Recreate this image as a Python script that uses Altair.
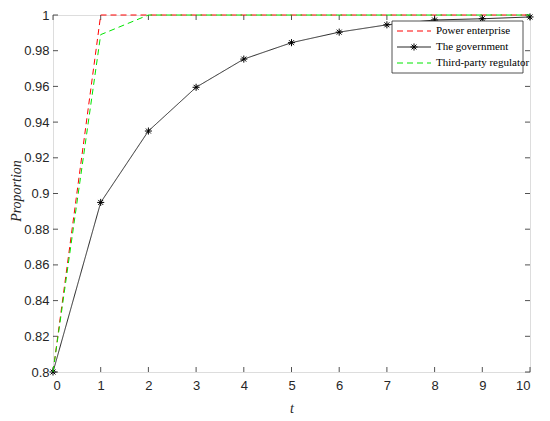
import altair as alt
import pandas as pd

# ---- data ----
t_values = list(range(11))
power = [0.8, 1.0, 1.0, 1.0, 1.0, 1.0, 1.0, 1.0, 1.0, 1.0, 1.0]
government = [0.8, 0.895, 0.935, 0.9595, 0.9753, 0.9845, 0.9904, 0.9945, 0.9972, 0.9979, 0.9989]
third = [0.8, 0.989, 1.0, 1.0, 1.0, 1.0, 1.0, 1.0, 1.0, 1.0, 1.0]

series_names = ["Power enterprise", "The government", "Third-party regulator"]
series_colors = ["#ff0000", "#262626", "#00e600"]
series_dash = [[6, 4], [1, 0], [6, 4]]

x_ticks = list(range(11))
y_ticks = [0.8, 0.82, 0.84, 0.86, 0.88, 0.9, 0.92, 0.94, 0.96, 0.98, 1.0]

W, H = 477, 357
ASTERISK = "M-1,0L1,0M0,-1L0,1M-0.7,-0.7L0.7,0.7M-0.7,0.7L0.7,-0.7"

xs = alt.Scale(domain=[0, 10], nice=False, zero=False)
ys = alt.Scale(domain=[0.8, 1.0], nice=False, zero=False)

x_axis = alt.Axis(values=x_ticks, title="t", ticks=False, domain=False, grid=False,
                  labelFont="Liberation Sans", labelFontSize=13, labelColor="#262626",
                  labelPadding=7, titleFont="Liberation Serif", titleFontStyle="italic",
                  titleFontWeight="normal", titleFontSize=14, titleColor="#262626",
                  titleX=W / 2, titleY=36, titleBaseline="middle", titleAlign="center")
y_axis = alt.Axis(values=y_ticks, title="Proportion", ticks=False, domain=False, grid=False,
                  labelExpr="format(datum.value, '.2~f')",
                  labelFont="Liberation Sans", labelFontSize=13, labelColor="#262626",
                  labelPadding=4, titleFont="Liberation Serif", titleFontStyle="italic",
                  titleFontWeight="normal", titleFontSize=14, titleColor="#262626",
                  titleX=-37, titleY=H / 2 - 3, titleAngle=-90, titleBaseline="middle",
                  titleAlign="center")

X = alt.X("t:Q", scale=xs, axis=x_axis)
Y = alt.Y("value:Q", scale=ys, axis=y_axis)

all_series = [power, government, third]
layers = []

# axis ticks (inward), drawn through the scales
xt = pd.DataFrame({"t": x_ticks})
yt = pd.DataFrame({"value": y_ticks})
tick_color = "#262626"
layers.append(alt.Chart(xt).mark_rule(color=tick_color, strokeWidth=0.8).encode(
    x=X, y=alt.value(H), y2=alt.value(H - 5)))
layers.append(alt.Chart(xt).mark_rule(color=tick_color, strokeWidth=0.8).encode(
    x=X, y=alt.value(0), y2=alt.value(5)))
layers.append(alt.Chart(yt).mark_rule(color=tick_color, strokeWidth=0.8).encode(
    y=Y, x=alt.value(0), x2=alt.value(5)))
layers.append(alt.Chart(yt).mark_rule(color=tick_color, strokeWidth=0.8).encode(
    y=Y, x=alt.value(W - 5), x2=alt.value(W)))

# series lines
for name, vals, col, dash in zip(series_names, all_series, series_colors, series_dash):
    d = pd.DataFrame({"t": t_values, "value": vals})
    layers.append(alt.Chart(d).mark_line(color=col, strokeWidth=1, strokeDash=dash).encode(x=X, y=Y))
    if name == "The government":
        layers.append(alt.Chart(d).mark_point(shape=ASTERISK, size=50, filled=False,
                                              color="#000000", strokeWidth=1, opacity=1).encode(x=X, y=Y))

# legend box (manual, MATLAB style)
box = pd.DataFrame({"k": [0]})
layers.append(alt.Chart(box).mark_rect(fill="white", stroke="#262626", strokeWidth=0.8).encode(
    x=alt.value(339), x2=alt.value(470), y=alt.value(6), y2=alt.value(58)))
row_y = [16, 32, 48]
for name, col, dash, ry in zip(series_names, series_colors, series_dash, row_y):
    ld = pd.DataFrame({"name": [name]})
    layers.append(alt.Chart(ld).mark_rule(color=col, strokeWidth=1, strokeDash=dash).encode(
        x=alt.value(344), x2=alt.value(378), y=alt.value(ry)))
    if name == "The government":
        layers.append(alt.Chart(ld).mark_point(shape=ASTERISK, size=50, filled=False,
                                               color="#000000", strokeWidth=1, opacity=1).encode(
            x=alt.value(361), y=alt.value(ry)))
    layers.append(alt.Chart(ld).mark_text(align="left", baseline="middle", font="Liberation Serif",
                                          fontSize=11, color="#000000").encode(
        x=alt.value(383), y=alt.value(ry), text="name:N"))

chart = alt.layer(*layers).properties(
    width=W, height=H,
    autosize=alt.AutoSizeParams(type="none"),
    padding={"left": 45, "top": 7, "right": 12, "bottom": 45},
).configure_view(stroke="#555555", strokeWidth=1).configure(background="white")

chart.save("out.html", embed_options={"renderer": "svg", "actions": False})
